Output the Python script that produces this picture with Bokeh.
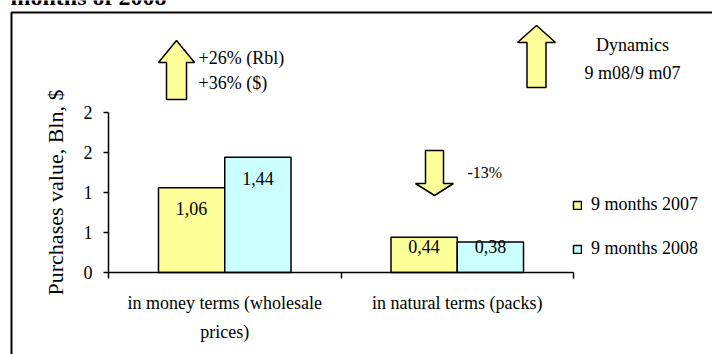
from bokeh.plotting import figure
from bokeh.models import (Range1d, FixedTicker, Label, PolyAnnotation, Legend, LegendItem,
                          ColumnDataSource)
from bokeh.core.properties import value
from bokeh.embed import file_html
from bokeh.resources import INLINE

# ---------------- data ----------------
categories = ["in money terms (wholesale\nprices)", "in natural terms (packs)"]
series_names = ["9 months 2007", "9 months 2008"]
values_2007 = [1.06, 0.44]
values_2008 = [1.44, 0.38]
labels_2007 = ["1,06", "0,44"]
labels_2008 = ["1,44", "0,38"]
y_ticks = [0, 0.5, 1, 1.5, 2]
y_tick_labels = ["0", "1", "1", "2", "2"]
title_text = "months of 2008"
y_axis_title = "Purchases value, Bln, $"
note_money = ["+26% (Rbl)", "+36% ($)"]
note_natural = "-13%"
note_dynamics = ["Dynamics", "9 m08/9 m07"]

FONT = "Liberation Serif"
YELLOW = "#FFFF99"
CYAN = "#CCFFFF"

W, H = 712, 354
# plot area of the original chart in canvas pixels
PX0, PX1, PY0, PY1 = 108, 573, 112, 272
n = len(categories)
ux = (PX1 - PX0) / n          # px per category
uy = (PY1 - PY0) / 2.0        # px per value unit

p = figure(width=W, height=H, output_backend="svg", toolbar_location=None,
           x_range=Range1d(-PX0 / ux, (W - PX0) / ux),
           y_range=Range1d(-(H - PY1) / uy, PY1 / uy),
           min_border=0, min_border_left=0, min_border_right=0,
           min_border_top=0, min_border_bottom=0)
p.outline_line_color = None
p.xgrid.visible = False
p.ygrid.visible = False
p.background_fill_color = "white"
p.border_fill_color = "white"

# ---------------- bars ----------------
bar_w = 0.285
centers = [i + 0.5 for i in range(n)]
src07 = ColumnDataSource(dict(x=[c - bar_w / 2 for c in centers], top=values_2007,
                              lab=labels_2007,
                              ly=[max(v - 0.26, 0.325) for v in values_2007]))
src08 = ColumnDataSource(dict(x=[c + bar_w / 2 for c in centers], top=values_2008,
                              lab=labels_2008,
                              ly=[max(v - 0.26, 0.325) for v in values_2008]))
r07 = p.vbar(x="x", top="top", bottom=0, width=bar_w, source=src07,
             fill_color=YELLOW, line_color="black", line_width=1.5)
r08 = p.vbar(x="x", top="top", bottom=0, width=bar_w, source=src08,
             fill_color=CYAN, line_color="black", line_width=1.5)
for s in (src07, src08):
    p.text(x="x", y="ly", text="lab", source=s, text_font=value(FONT),
           text_font_size="18px", text_align="center", text_baseline="middle",
           text_color="black")

# ---------------- axes ----------------
ya = p.yaxis[0]
ya.fixed_location = 0
ya.bounds = (0, 2)
ya.ticker = FixedTicker(ticks=y_ticks)
ya.major_label_overrides = {t: l for t, l in zip(y_ticks, y_tick_labels)}
ya.major_tick_out = 5
ya.major_tick_in = 0
ya.minor_tick_out = 0
ya.minor_tick_in = 0
ya.axis_line_width = 1.5
ya.major_tick_line_width = 1.5
ya.major_label_standoff = 11
ya.major_label_text_font = FONT
ya.major_label_text_font_size = "18px"
ya.major_label_text_color = "black"
ya.axis_label = y_axis_title
ya.axis_label_text_font = FONT
ya.axis_label_text_font_size = "22px"
ya.axis_label_text_font_style = "normal"
ya.axis_label_text_color = "black"
ya.axis_label_standoff = 13

xa = p.xaxis[0]
xa.fixed_location = 0
xa.bounds = (0, n)
xa.ticker = FixedTicker(ticks=centers, minor_ticks=list(range(n + 1)))
xa.major_label_overrides = {c: name for c, name in zip(centers, categories)}
xa.major_tick_out = 0
xa.major_tick_in = 0
xa.minor_tick_out = 6
xa.minor_tick_in = 0
xa.minor_tick_line_color = "black"
xa.minor_tick_line_width = 1.5
xa.axis_line_width = 1.5
xa.major_label_standoff = 14
xa.major_label_text_font = FONT
xa.major_label_text_font_size = "18px"
xa.major_label_text_color = "black"
xa.major_label_text_line_height = 1.45


# ---------------- helpers (canvas px from top-left -> screen units) ----------------
def sx(X):
    return X


def sy(Y):
    return H - Y


# ---------------- legend ----------------
legend = Legend(items=[LegendItem(label=series_names[0], renderers=[r07]),
                       LegendItem(label=series_names[1], renderers=[r08])],
                location=(sx(572), sy(259)), orientation="vertical")
legend.glyph_width = 10
legend.glyph_height = 10
legend.label_standoff = 9
legend.spacing = 23
legend.padding = 0
legend.margin = 0
legend.border_line_color = None
legend.background_fill_alpha = 0
legend.label_text_font = FONT
legend.label_text_font_size = "18px"
legend.label_text_color = "black"
p.add_layout(legend)


def add_label(text, X, Y, align="left", size="18px", style="normal", baseline="middle"):
    p.add_layout(Label(x=sx(X), y=sy(Y), x_units="screen", y_units="screen", text=text,
                       text_font=FONT, text_font_size=size, text_font_style=style,
                       text_align=align, text_baseline=baseline, text_color="black"))


def add_arrow(cx, tip_y, base_y, head_y, shaft_w, head_w):
    xs = [cx, cx + head_w / 2, cx + shaft_w / 2, cx + shaft_w / 2,
          cx - shaft_w / 2, cx - shaft_w / 2, cx - head_w / 2]
    ys = [tip_y, head_y, head_y, base_y, base_y, head_y, head_y]
    p.add_layout(PolyAnnotation(xs=[sx(x) for x in xs], ys=[sy(y) for y in ys],
                                xs_units="screen", ys_units="screen",
                                fill_color=YELLOW, fill_alpha=1, line_color="black",
                                line_alpha=1, line_width=1.5))


# frame border of the original slide
p.add_layout(PolyAnnotation(xs=[sx(11), sx(11), sx(820), sx(820)],
                            ys=[sy(420), sy(12), sy(12), sy(420)],
                            xs_units="screen", ys_units="screen",
                            fill_alpha=0, line_color="black", line_alpha=1, line_width=2))

add_label(title_text, 10, -4, size="24px", style="bold", baseline="alphabetic")

add_arrow(176, 40, 99, 62, 20, 36)
add_arrow(536, 25, 87, 42, 19, 38)
add_arrow(434, 195, 150, 183, 18, 38)

add_label(note_money[0], 198, 57)
add_label(note_money[1], 198, 82)
add_label(note_dynamics[0], 632, 44, align="center")
add_label(note_dynamics[1], 632, 72, align="center")
add_label(note_natural, 467, 172, size="16px")

open("out.html", "w").write(file_html(p, INLINE))
